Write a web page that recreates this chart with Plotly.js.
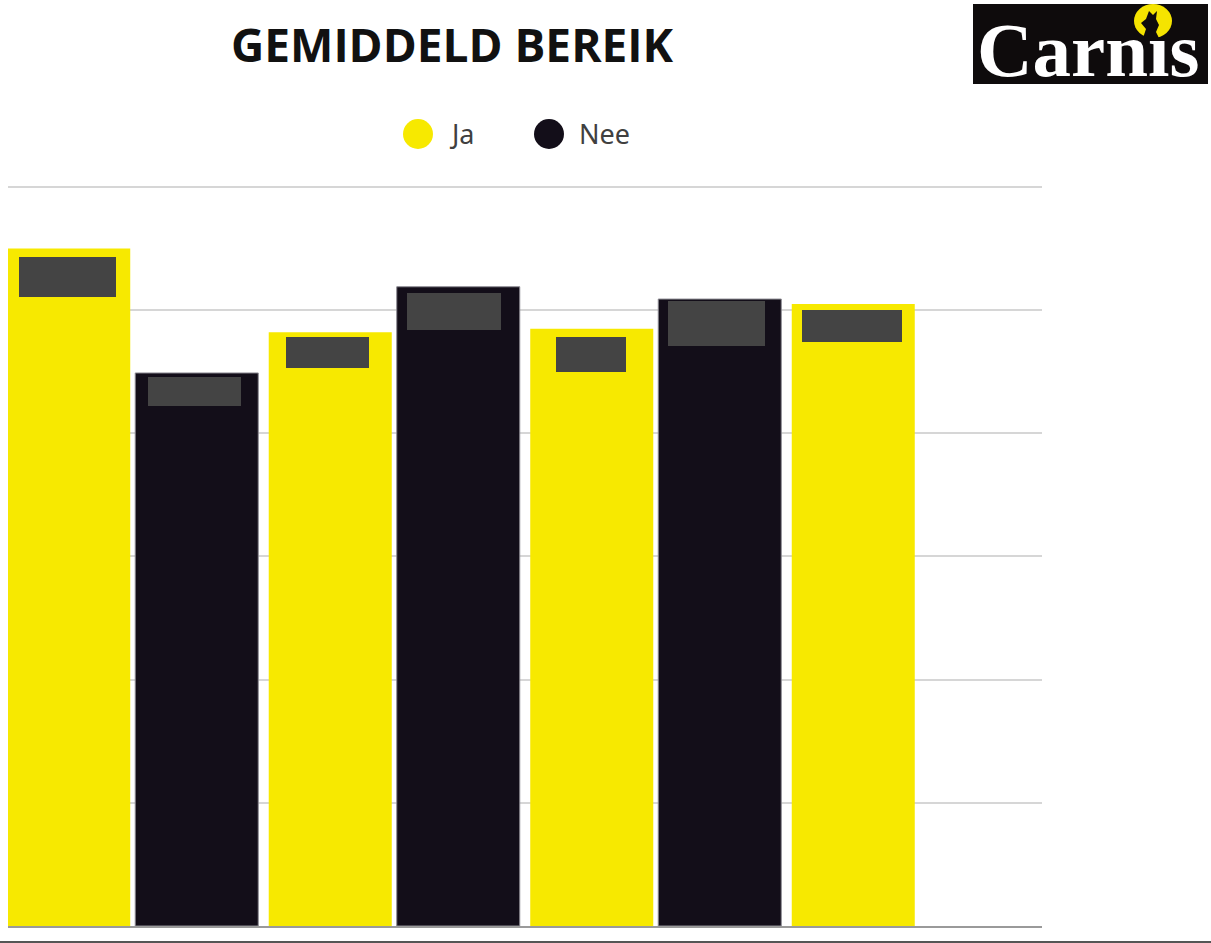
<!DOCTYPE html>
<html>
<head>
<meta charset="utf-8">
<script src="https://cdn.plot.ly/plotly-3.0.1.min.js"></script>
<style>
  html, body { margin: 0; padding: 0; background: #ffffff; }
  #chart { width: 1211px; height: 943px; }
</style>
</head>
<body>
<div id="chart"></div>
<script>
// ---- data (in gridline units) ----
const categories = ["Groep 1", "Groep 2", "Groep 3", "Groep 4"];
const seriesNames = ["Ja", "Nee"];
const jaValues  = [5.50, 4.82, 4.85, 5.05];
const neeValues = [4.49, 5.19, 5.09, null];
const chartTitle = "GEMIDDELD BEREIK";
// the dot of the "i" is replaced by the moon in the logo
const logoText = "Carn\u0131s";

// ---- style ----
const YELLOW = "#f7e900";
const DARK = "#130e19";
const LABEL_GREY = "#444444";

// redaction boxes drawn over the value labels: [width, height, offsetFromTop, dx]
const jaBoxes  = [[97, 40, 8, -1], [83, 31, 5, -2.5], [70, 35, 8, -0.5], [100, 32, 6, -1.5]];
const neeBoxes = [[93, 29, 4, -2.5], [94, 37, 6, -4], [97, 45, 2, -3]];

// pixel -> paper helpers (plot area: x 8..1042, y 180..926)
const L = 8, PW = 1034, B = 926, PH = 746;
const px2x = p => (p - L) / PW;
const px2y = p => (B - p) / PH;

const traces = [
  {
    type: "bar", name: seriesNames[0], x: categories, y: jaValues,
    marker: { color: YELLOW, line: { width: 0 } },
    showlegend: false, hoverinfo: "skip"
  },
  {
    type: "bar", name: seriesNames[1], x: categories, y: neeValues,
    marker: { color: DARK, line: { color: "#8c8a92", width: 1 } },
    showlegend: false, hoverinfo: "skip"
  }
];

const annotations = [];
function addBoxes(vals, boxes, side) {
  vals.forEach((v, i) => {
    if (v === null || !boxes[i]) return;
    const [w, h, off, dx] = boxes[i];
    annotations.push({
      x: categories[i], y: v, xref: "x", yref: "y",
      xanchor: "center", yanchor: "top",
      xshift: side * 64 + dx, yshift: -off,
      text: v.toFixed(2), showarrow: false,
      width: w, height: h, borderpad: 0, borderwidth: 0,
      bgcolor: LABEL_GREY, font: { color: LABEL_GREY, size: 12 }
    });
  });
}
addBoxes(jaValues, jaBoxes, -1);
addBoxes(neeValues, neeBoxes, 1);

// legend labels
annotations.push({
  x: px2x(447), y: px2y(134), xref: "paper", yref: "paper",
  xanchor: "left", yanchor: "middle", showarrow: false,
  text: seriesNames[0], font: { family: "Noto Sans", size: 27, color: "#404040" }
});
annotations.push({
  x: px2x(577), y: px2y(134), xref: "paper", yref: "paper",
  xanchor: "left", yanchor: "middle", showarrow: false,
  text: seriesNames[1], font: { family: "Noto Sans", size: 27, color: "#404040" }
});

// logo text
annotations.push({
  x: px2x(1088), y: px2y(50), xref: "paper", yref: "paper",
  xanchor: "center", yanchor: "middle", showarrow: false,
  text: "<b>" + logoText + "</b>",
  font: { family: "Liberation Serif", size: 77, color: "#ffffff" }
});

const shapes = [
  // legend dots
  { type: "circle", xref: "paper", yref: "paper", xsizemode: "pixel", ysizemode: "pixel",
    xanchor: px2x(418), yanchor: px2y(134), x0: -15, x1: 15, y0: -15, y1: 15,
    fillcolor: YELLOW, line: { width: 0 } },
  { type: "circle", xref: "paper", yref: "paper", xsizemode: "pixel", ysizemode: "pixel",
    xanchor: px2x(549), yanchor: px2y(134), x0: -15, x1: 15, y0: -15, y1: 15,
    fillcolor: DARK, line: { width: 0 } },
  // logo background
  { type: "rect", xref: "paper", yref: "paper", layer: "below",
    x0: px2x(973), x1: px2x(1208), y0: px2y(84), y1: px2y(4),
    fillcolor: "#0e0b0c", line: { width: 0 } },
  // logo moon
  { type: "circle", xref: "paper", yref: "paper", xsizemode: "pixel", ysizemode: "pixel", layer: "below",
    xanchor: px2x(1153), yanchor: px2y(21), x0: -19, x1: 19, y0: -17, y1: 17,
    fillcolor: "#f5e400", line: { width: 0 } },
  // wolf silhouette in the moon
  { type: "path", xref: "paper", yref: "paper", xsizemode: "pixel", ysizemode: "pixel", layer: "below",
    xanchor: px2x(1153), yanchor: px2y(21),
    path: "M -10,-17 L -7,-8 L -12,-2 L -7,2 L -4,10 L 0,6 L 4,10 L 3,2 L 6,-4 L 3,-11 L 6,-17 Z",
    fillcolor: "#0e0b0c", line: { width: 0 } },
  // bottom border of the image
  { type: "line", xref: "paper", yref: "paper",
    x0: px2x(0), x1: px2x(1211), y0: px2y(942), y1: px2y(942),
    line: { color: "#555555", width: 2 } }
];

const layout = {
  width: 1211, height: 943,
  margin: { l: L, r: 1211 - L - PW, t: 180, b: 943 - B },
  paper_bgcolor: "#ffffff", plot_bgcolor: "#ffffff",
  title: {
    text: "<b>" + chartTitle + "</b>",
    font: { family: "Open Sans", size: 46, color: "#111111" },
    xref: "paper", x: px2x(452), xanchor: "center",
    yref: "container", y: 1 - 46 / 943, yanchor: "middle"
  },
  barmode: "group", bargap: 0.021, bargroupgap: 0.039,
  showlegend: false,
  hovermode: false,
  xaxis: {
    type: "category", range: [-0.477, 3.477],
    showticklabels: false, ticks: "", showgrid: false, zeroline: false,
    showline: true, linecolor: "#9a9a9a", linewidth: 2, layer: "below traces",
    fixedrange: true
  },
  yaxis: {
    range: [0, PH / 123.17], dtick: 1, tick0: 0,
    showticklabels: false, ticks: "", zeroline: false,
    showgrid: true, gridcolor: "#d6d6d6", gridwidth: 2,
    showline: false, fixedrange: true
  },
  annotations: annotations,
  shapes: shapes
};

Plotly.newPlot("chart", traces, layout, { displayModeBar: false, staticPlot: true });
</script>
</body>
</html>
